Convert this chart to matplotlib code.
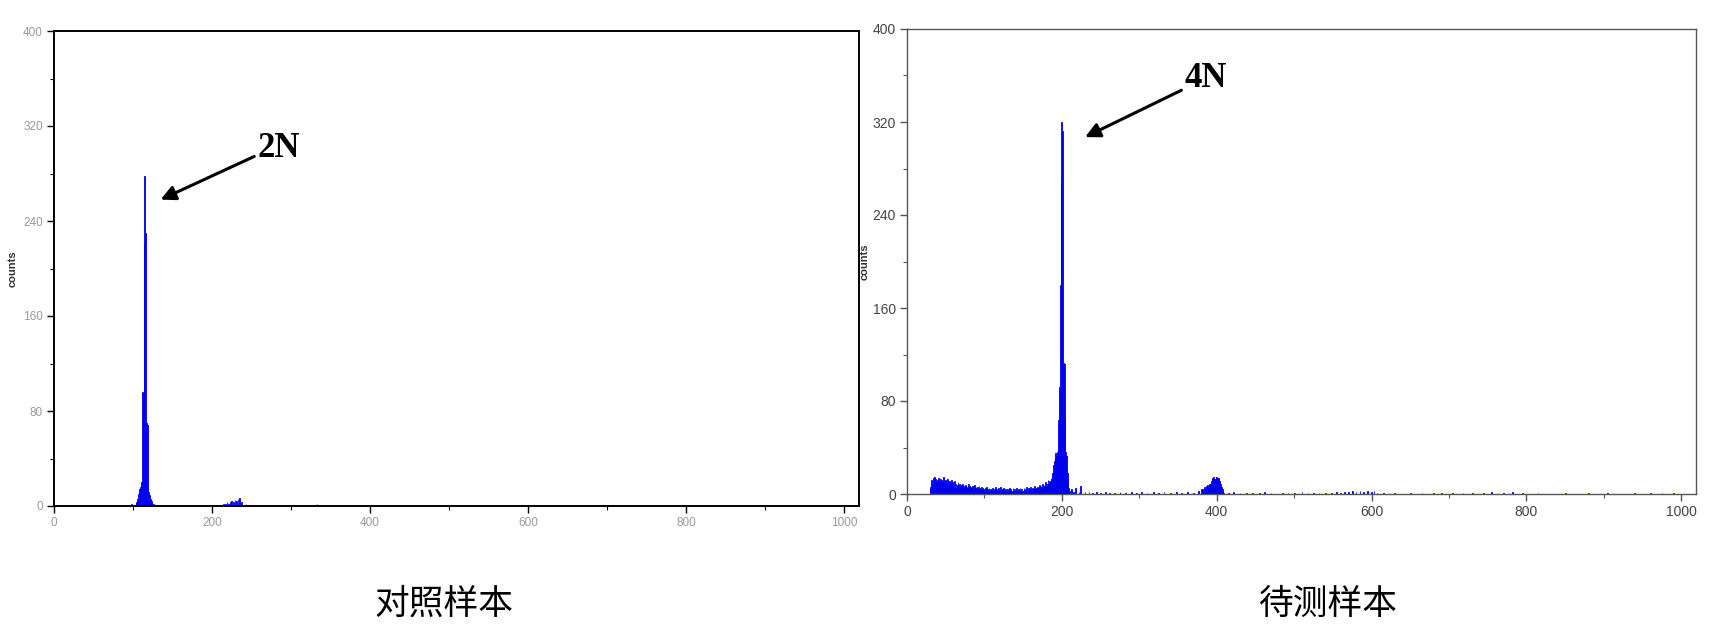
import matplotlib
matplotlib.use('Agg')
import matplotlib.pyplot as plt
import matplotlib.ticker

# control sample: channel -> counts
ctrl_ch = [92, 98, 104, 106, 107, 108, 109, 110, 111, 112, 113, 114, 115, 116, 117, 118,
           119, 120, 121, 122, 123, 124, 126, 130,
           215, 217, 219, 221, 223, 225, 227, 229, 231, 233, 235, 237, 243,
           333, 340, 344, 348, 352]
ctrl_counts = [1, 2, 3, 6, 10, 14, 16, 18, 20, 96, 95, 220, 278, 230, 70, 68,
               16, 12, 9, 6, 4, 3, 2, 1,
               2, 2, 3, 2, 3, 4, 3, 5, 4, 6, 7, 3, 2,
               2, 1, 1, 1, 1]

# test sample: dense noise from channel 30 to 189
test_noise_start = 30
test_noise = [6, 9, 12, 8, 14, 11, 15, 13, 10, 12, 9, 14, 11, 13, 8, 12, 10, 15, 9, 11,
              12, 8, 13, 10, 7, 11, 9, 12, 6, 10, 8, 11, 7, 9, 5, 8, 10, 6, 9, 7,
              8, 5, 9, 6, 7, 4, 8, 5, 6, 9, 4, 7, 5, 6, 3, 7, 4, 8, 5, 6,
              4, 6, 3, 7, 5, 4, 6, 3, 5, 4, 2, 5, 3, 6, 4, 3, 5, 2, 4, 3,
              5, 2, 4, 3, 6, 2, 4, 3, 5, 2, 3, 6, 2, 4, 3, 5, 2, 4, 3, 2,
              4, 3, 5, 2, 4, 3, 2, 5, 3, 4, 2, 5, 3, 2, 4, 3, 5, 2, 4, 3,
              3, 5, 2, 4, 6, 3, 2, 5, 4, 3, 6, 2, 5, 4, 3, 7, 4, 5, 3, 6,
              5, 8, 4, 7, 6, 9, 5, 8, 6, 10, 7, 9, 12, 8, 11, 10, 14, 12, 18, 25]

# test sample: 4N peak and the rest
test_ch = [190, 191, 192, 193, 194, 195, 196, 197, 198, 199, 200, 201, 202, 203, 204, 205,
           206, 207, 208, 209, 210,
           212, 215, 218, 222, 224, 230, 235, 240, 245, 250, 256, 262, 268, 275, 282, 290,
           296, 303, 310, 318, 325, 332, 340, 348, 355, 362, 370, 376, 380,
           381, 382, 383, 384, 385, 386, 387, 388, 389, 390, 391, 392, 393, 394, 395, 396,
           397, 398, 399, 400, 401, 402, 403, 404, 405, 406, 407, 408, 409,
           415, 422, 430, 438, 446, 455, 462, 470, 485, 492, 500, 510, 518, 525, 532, 540,
           548, 555, 560, 565, 570, 575, 580, 585, 590, 595, 600, 603, 607, 615, 630, 650,
           665, 680, 690, 705, 718, 730, 745, 755, 770, 782, 795, 815, 850, 880, 905, 940,
           960, 975, 990, 1020]
test_counts = [28, 32, 35, 33, 36, 40, 64, 92, 180, 268, 320, 312, 113, 112, 64, 36,
               33, 18, 10, 5, 3,
               4, 2, 5, 2, 7, 2, 2, 1, 2, 1, 2, 1, 1, 2, 1, 2,
               1, 2, 1, 2, 1, 2, 1, 2, 1, 2, 1, 3, 4,
               3, 4, 2, 6, 5, 3, 7, 8, 5, 5, 9, 9, 11, 12, 14, 15,
               13, 13, 15, 15, 14, 14, 12, 11, 9, 6, 4, 2, 1,
               1, 2, 1, 1, 1, 1, 2, 1, 1, 1, 1, 2, 1, 1, 1, 1,
               1, 2, 1, 2, 2, 3, 2, 3, 2, 3, 2, 3, 1, 1, 1, 1,
               1, 1, 1, 1, 1, 1, 1, 2, 1, 2, 1, 1, 1, 1, 1, 1,
               1, 1, 1, 13]

panel_labels = ['对照样本', '待测样本']
peak_labels = ['2N', '4N']

W, H = 1721, 640
fig = plt.figure(figsize=(W / 100, H / 100), dpi=100)

# axes placed in pixel coordinates of the reference
ax1 = fig.add_axes([54 / W, 1 - 506 / H, (859 - 54) / W, (506 - 31) / H])
ax2 = fig.add_axes([907 / W, 1 - 494 / H, (1696 - 907) / W, (494 - 29) / H])

bar_kw = dict(width=1.0, color='#0000ff', edgecolor='#0000ee', linewidth=0.6)
ax1.bar(ctrl_ch, ctrl_counts, **bar_kw)
noise_ch = list(range(test_noise_start, test_noise_start + len(test_noise)))
ax2.bar(noise_ch, test_noise, **bar_kw)
ax2.bar(test_ch, test_counts, **bar_kw)

for ax, tick_col, tick_fs, spine_col, spine_lw in [(ax1, '#9a9a9a', 8.5, 'black', 1.4),
                                                    (ax2, '#444444', 10, '#555555', 1.0)]:
    ax.set_xlim(0, 1019)
    ax.set_ylim(0, 400)
    ax.xaxis.set_major_locator(matplotlib.ticker.MultipleLocator(200))
    ax.xaxis.set_minor_locator(matplotlib.ticker.MultipleLocator(100))
    ax.yaxis.set_major_locator(matplotlib.ticker.MultipleLocator(80))
    ax.yaxis.set_minor_locator(matplotlib.ticker.MultipleLocator(40))
    ax.tick_params(which='major', direction='out', length=5, width=1, color=spine_col,
                   labelsize=tick_fs, labelcolor=tick_col, pad=3)
    ax.tick_params(which='minor', direction='out', length=3, width=0.8, color=spine_col)
    for s in ax.spines.values():
        s.set_color(spine_col)
        s.set_linewidth(spine_lw)
    for lab in ax.get_xticklabels() + ax.get_yticklabels():
        lab.set_family('Liberation Sans')

ax1.set_ylabel('counts', fontsize=8, fontweight='bold', color='#333333',
               family='Liberation Sans', labelpad=4)
ax2.set_ylabel('counts', fontsize=8, fontweight='bold', color='#333333',
               family='Liberation Sans', labelpad=2)

# peak annotations
ax1.annotate(peak_labels[0], xy=(135, 258), xytext=(257, 301), textcoords='data',
             fontsize=25, fontweight='bold', family='Liberation Serif', va='center',
             arrowprops=dict(arrowstyle='-|>', color='black', lw=2.2, mutation_scale=22,
                             shrinkA=0, shrinkB=0, relpos=(0, 0.3)))
ax2.annotate(peak_labels[1], xy=(230, 307), xytext=(358, 357), textcoords='data',
             fontsize=25, fontweight='bold', family='Liberation Serif', va='center',
             arrowprops=dict(arrowstyle='-|>', color='black', lw=2.2, mutation_scale=22,
                             shrinkA=0, shrinkB=0, relpos=(0, 0.2)))

# sample names under the panels
fig.text(444 / W, 1 - 604 / H, panel_labels[0], ha='center', va='center',
         fontsize=25, family='Noto Sans CJK SC')
fig.text(1328 / W, 1 - 604 / H, panel_labels[1], ha='center', va='center',
         fontsize=25, family='Noto Sans CJK SC')

plt.savefig('out.png', dpi=100)
